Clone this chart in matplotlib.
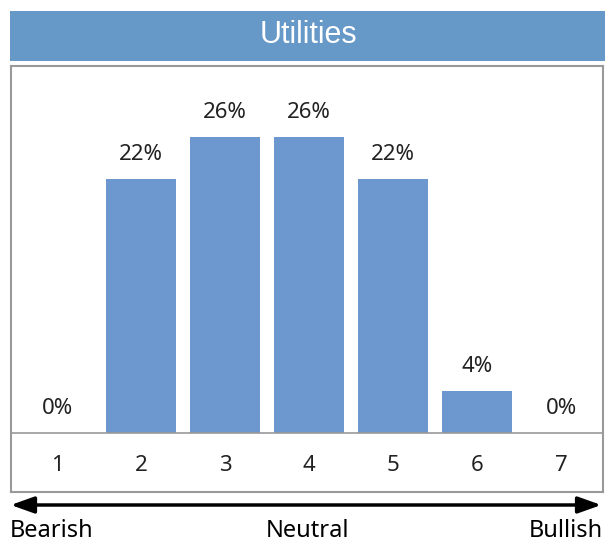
import matplotlib.pyplot as plt
from matplotlib.patches import Rectangle, FancyArrowPatch

categories = ["1", "2", "3", "4", "5", "6", "7"]
values = [0, 22.2, 25.9, 25.9, 22.2, 3.7, 0]
labels = ["0%", "22%", "26%", "26%", "22%", "4%", "0%"]
title = "Utilities"
scale_words = ["Bearish", "Neutral", "Bullish"]

W, H = 605, 542
fig = plt.figure(figsize=(W / 100, H / 100), dpi=100)

def fx(px):
    return px / W

def fy(py):
    return 1 - py / H

# title band
fig.patches.append(Rectangle((fx(10), fy(61)), fx(595), 50 / H, transform=fig.transFigure,
                             facecolor="#6699c8", edgecolor="none"))
fig.text(fx(308), fy(35), title, color="white", fontsize=22, ha="center", va="center",
         family="Liberation Sans")

# chart box
ax = fig.add_axes([fx(11), fy(492), fx(592), (492 - 66) / H])
x = list(range(1, len(categories) + 1))
ax.bar(x, values, width=0.83, color="#6c97cf", zorder=2)
ax.set_xlim(0.45, 7.5)
ax.set_ylim(-(492 - 433) / 11.44, (433 - 66) / 11.44)
ax.axhline(0, color="#999999", lw=1.2, zorder=3)
for xi, v, lab, cat in zip(x, values, labels, categories):
    ax.text(xi, v + 1.2, lab, ha="center", va="bottom", fontsize=16, color="#222222",
            family="Noto Sans")
    ax.text(xi, -2.8, cat, ha="center", va="center", fontsize=16, color="#222222",
            family="Noto Sans")
ax.set_xticks([])
ax.set_yticks([])
for s in ax.spines.values():
    s.set_color("#999999")
    s.set_linewidth(1.5)

# bearish / bullish arrow
arr = FancyArrowPatch((fx(8), fy(505)), (fx(604), fy(505)), transform=fig.transFigure,
                      arrowstyle="<|-|>,head_length=14,head_width=5", color="black", lw=2.5,
                      mutation_scale=1)
fig.patches.append(arr)
fig.text(fx(10), fy(531), scale_words[0], ha="left", va="center", fontsize=17, family="Noto Sans")
fig.text(fx(308), fy(531), scale_words[1], ha="center", va="center", fontsize=17, family="Noto Sans")
fig.text(fx(603), fy(531), scale_words[2], ha="right", va="center", fontsize=17, family="Noto Sans")

fig.savefig("out.png", dpi=100)
